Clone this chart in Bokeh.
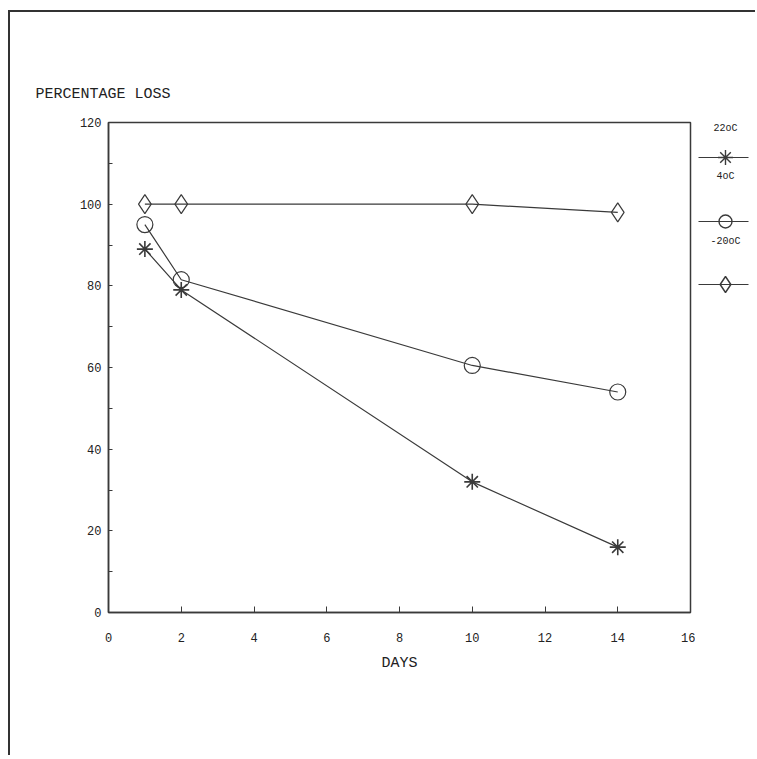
from bokeh.plotting import figure
from bokeh.models import Range1d, FixedTicker, Title
from bokeh.layouts import row
from bokeh.embed import file_html
from bokeh.resources import INLINE

days = [1, 2, 10, 14]
loss_22 = [89, 79, 32, 16]
loss_4 = [95, 81.5, 60.5, 54]
loss_m20 = [100, 100, 100, 98]
series_names = ["22oC", "4oC", "-20oC"]
series_markers = ["asterisk", "circle", "diamond"]
x_ticks = [0, 2, 4, 6, 8, 10, 12, 14, 16]
y_ticks = [0, 20, 40, 60, 80, 100, 120]
y_minor = [10, 30, 50, 70, 90, 110]

INK = "#3a3a3a"
TXT = "#222222"
FONT = "Liberation Mono"
H = 743

p = figure(width=685, height=H, output_backend="svg", toolbar_location=None,
           x_range=Range1d(0, 16), y_range=Range1d(0, 120),
           min_border_left=98, min_border_right=5, min_border_top=110, min_border_bottom=143)
p.background_fill_color = "white"
p.border_fill_color = "white"
p.grid.visible = False
p.outline_line_color = INK
p.outline_line_width = 1.5

p.add_layout(Title(text="PERCENTAGE LOSS", align="left", offset=-73, standoff=39,
                   text_font=FONT, text_font_size="15px", text_font_style="normal",
                   text_color=TXT), "above")

for ax in (p.xaxis[0], p.yaxis[0]):
    ax.axis_line_color = INK
    ax.axis_line_width = 1.5
    ax.major_tick_line_color = INK
    ax.minor_tick_line_color = INK
    ax.major_tick_in = 6
    ax.major_tick_out = 0
    ax.major_label_text_font = FONT
    ax.major_label_text_font_size = "12px"
    ax.major_label_text_color = TXT

p.xaxis.ticker = FixedTicker(ticks=x_ticks)
p.xaxis.minor_tick_line_color = None
p.xaxis.major_label_standoff = 20
p.xaxis.axis_label = "DAYS"
p.xaxis.axis_label_text_font = FONT
p.xaxis.axis_label_text_font_size = "15px"
p.xaxis.axis_label_text_font_style = "normal"
p.xaxis.axis_label_text_color = TXT
p.xaxis.axis_label_standoff = 10

p.yaxis.ticker = FixedTicker(ticks=y_ticks, minor_ticks=y_minor)
p.yaxis.major_tick_in = 4
p.yaxis.minor_tick_in = 4
p.yaxis.minor_tick_out = 0
p.yaxis.major_label_standoff = 7

p.line(days, loss_22, line_color=INK, line_width=1.2)
p.scatter(days, loss_22, marker="asterisk", size=16, line_color=INK, line_width=1.6)
p.line(days, loss_4, line_color=INK, line_width=1.2)
p.scatter(days, loss_4, marker="circle", size=16, line_color=INK, fill_color=None, line_width=1.2)
p.line(days, loss_m20, line_color=INK, line_width=1.2)
p.scatter(days, loss_m20, marker="diamond", size=19, line_color=INK, fill_color=None, line_width=1.2)

# legend panel: its frame is aligned with the main frame; pixel layout, y measured from top
lg = figure(width=60, height=H, output_backend="svg", toolbar_location=None,
            x_range=Range1d(0, 60), y_range=Range1d(612, 122),
            x_axis_type=None, y_axis_type=None, min_border=0)
lg.outline_line_color = None
lg.grid.visible = False
lg.background_fill_color = "white"
lg.border_fill_color = "white"

label_y = [128, 176, 241]
glyph_y = [157, 221, 284]
marker_sizes = [15, 13, 16]
for name, mk, ly, gy, ms in zip(series_names, series_markers, label_y, glyph_y, marker_sizes):
    lg.text(x=[30], y=[ly], text=[name], text_align="center", text_baseline="middle",
            text_font_size="10px", text_color=TXT, text_font={"value": FONT})
    lg.line(x=[3, 53], y=[gy, gy], line_color=INK, line_width=1.2)
    lg.scatter(x=[30], y=[gy], marker=mk, size=ms, line_color=INK, fill_color=None,
               line_width=1.4)

layout = row(p, lg, spacing=0)
layout.styles = {"border-top": "2px solid #333", "border-left": "2px solid #333",
                 "margin-left": "8px", "margin-top": "10px"}

open("out.html", "w").write(file_html(layout, INLINE))
